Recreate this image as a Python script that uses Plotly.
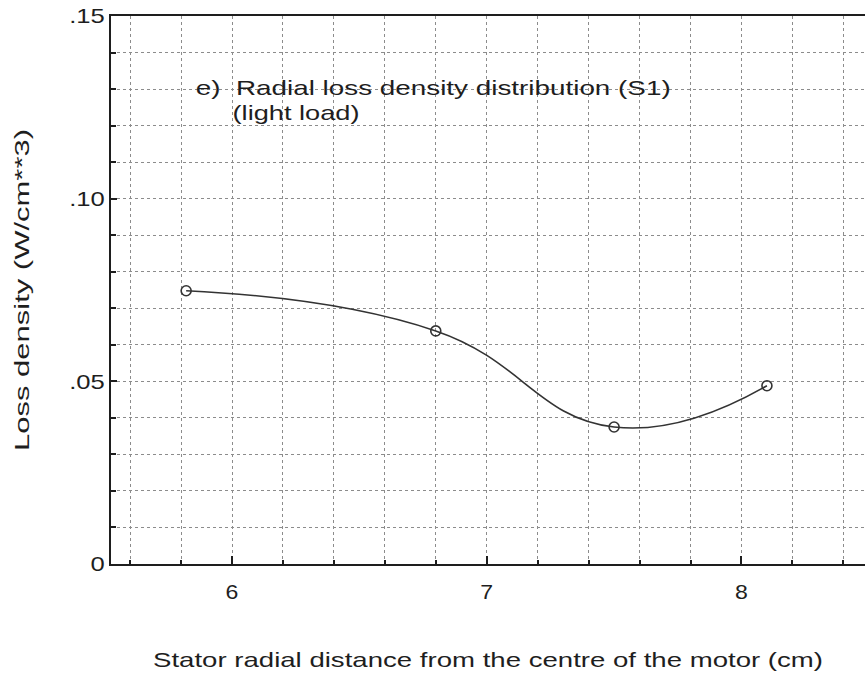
import plotly.graph_objects as go

# Radial loss density in the stator, S1 light-load case
radius_cm = [5.82, 6.80, 7.50, 8.10]
loss_density = [0.0748, 0.0638, 0.0375, 0.0488]

y_tickvals = [0, 0.05, 0.10, 0.15]
y_ticktext = ["0", ".05", ".10", ".15"]
x_tickvals = [6, 7, 8]

ink = "#1e1e1e"
grid = "#8c8c8c"
font = "Liberation Sans, Arial, sans-serif"

fig = go.Figure()
fig.add_trace(go.Scatter(
    x=radius_cm, y=loss_density,
    mode="lines+markers",
    line=dict(shape="spline", smoothing=1.3, color="#333333", width=1.6),
    marker=dict(symbol="circle-open", size=10, color="#333333",
                line=dict(width=1.6, color="#333333")),
    showlegend=False,
))

fig.add_annotation(x=6.79, y=0.1304, xref="x", yref="y", xanchor="center", yanchor="middle",
                   text="e)  Radial loss density distribution (S1)", showarrow=False,
                   font=dict(family=font, size=21, color=ink))
fig.add_annotation(x=6.25, y=0.1236, xref="x", yref="y", xanchor="center", yanchor="middle",
                   text="(light load)", showarrow=False,
                   font=dict(family=font, size=21, color=ink))

fig.update_layout(
    width=865, height=681,
    margin=dict(l=111, r=0, t=16, b=117),
    paper_bgcolor="white", plot_bgcolor="white",
    font=dict(family=font, size=21, color=ink),
    xaxis=dict(
        range=[5.525, 8.485],
        tickvals=x_tickvals, ticktext=[str(v) for v in x_tickvals],
        ticks="inside", ticklen=8, tickwidth=1.5, tickcolor=ink,
        showline=True, linecolor=ink, linewidth=2, mirror=True,
        showgrid=True, gridcolor=grid, griddash="dot", gridwidth=1,
        minor=dict(dtick=0.2, tick0=6, ticks="inside", ticklen=4, tickcolor=ink,
                   showgrid=True, gridcolor=grid, griddash="dot", gridwidth=1),
        ticklabelstandoff=8,
        zeroline=False,
        title=dict(text="Stator radial distance from the centre of the motor (cm)",
                   font=dict(size=21), standoff=50),
    ),
    yaxis=dict(
        range=[0, 0.15],
        tickvals=y_tickvals, ticktext=y_ticktext,
        ticks="inside", ticklen=6, tickwidth=1.5, tickcolor=ink,
        showline=True, linecolor=ink, linewidth=2, mirror=False,
        showgrid=True, gridcolor=grid, griddash="dot", gridwidth=1,
        minor=dict(dtick=0.01, tick0=0, ticks="inside", ticklen=5, tickcolor=ink,
                   showgrid=True, gridcolor=grid, griddash="dot", gridwidth=1),
        ticklabelstandoff=0,
        zeroline=False,
        title=dict(text="Loss density (W/cm**3)", font=dict(size=21), standoff=40),
    ),
)

# The typeface of this figure is set wide; widen the rendered SVG text to suit.
widen_text = """
var gd = document.getElementById('{plot_id}');
function setLen(el, len) {
  el.setAttribute('textLength', len);
  el.setAttribute('lengthAdjust', 'spacingAndGlyphs');
}
function scale(sel, k) {
  gd.querySelectorAll(sel).forEach(function (t) {
    setLen(t, t.getComputedTextLength() * k);
  });
}
var xt = gd.querySelector('text.xtitle'); if (xt) setLen(xt, 670);
var yt = gd.querySelector('text.ytitle'); if (yt) setLen(yt, 322);
var ann = gd.querySelectorAll('g.annotation-text-g text');
if (ann.length > 0) setLen(ann[0], 475);
if (ann.length > 1) setLen(ann[1], 127);
scale('g.xtick text', 1.1);
scale('g.ytick text', 1.22);
"""

fig.write_html("out.html", post_script=widen_text)
